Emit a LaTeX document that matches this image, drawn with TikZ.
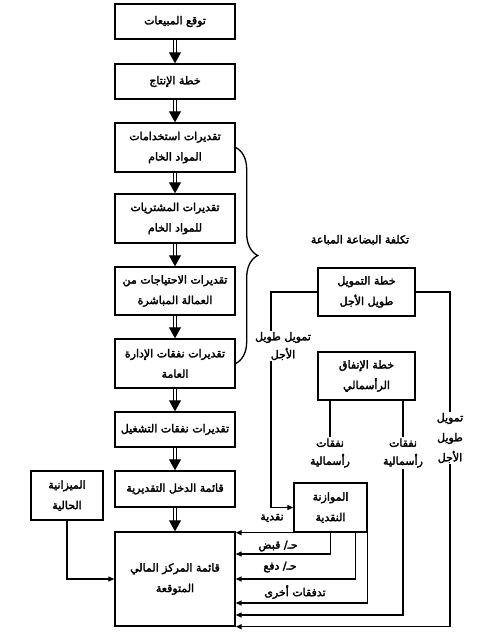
\documentclass[tikz,border=0pt]{standalone}
\usepackage{fontspec}
\newfontfamily\arabicfont[Script=Arabic,FakeBold=2.6]{DejaVu Sans}
\TeXXeTstate=1
\usepackage{tikz}
\usetikzlibrary{calc,positioning,decorations.pathreplacing,arrows.meta}
\newcommand{\artext}[1]{\beginR #1\endR}
\tikzset{
    box/.style={draw, line width=1.4pt, minimum width=120pt, align=center, inner sep=1pt,
        font=\arabicfont\fontsize{11}{20.5}\selectfont},
    lbl/.style={align=center, inner sep=1pt, font=\arabicfont\fontsize{11}{18}\selectfont},
    flow/.style={double, double distance=2pt, line width=1pt, -{Triangle[length=11pt,width=12pt]}},
    link/.style={line width=1.3pt},
    tip/.style={-{Triangle[length=6pt,width=5pt]}}
}

\begin{document}
\begin{tikzpicture}[x=1pt,y=-1pt]
    \useasboundingbox (0,0) rectangle (486,633);
    % Main column of budgets
    \node[box, minimum height=35pt] (sales) at (175,21.5) {\artext{توقع المبيعات}};
    \node[box, minimum height=35pt] (prod) at (175,81.5) {\artext{خطة الإنتاج}};
    \node[box, minimum height=49pt] (raw) at (175,147.5) {\artext{تقديرات استخدامات}\\\artext{المواد الخام}};
    \node[box, minimum height=49pt] (purch) at (175,218.5) {\artext{تقديرات المشتريات}\\\artext{للمواد الخام}};
    \node[box, minimum height=48pt] (labor) at (175,291) {\artext{تقديرات الاحتياجات من}\\\artext{العمالة المباشرة}};
    \node[box, minimum height=49pt] (overhead) at (175,363.5) {\artext{تقديرات نفقات الإدارة}\\\artext{العامة}};
    \node[box, minimum height=35pt] (opex) at (175,429.5) {\artext{تقديرات نفقات التشغيل}};
    \node[box, minimum height=36pt] (income) at (175,489) {\artext{قائمة الدخل التقديرية}};
    \node[box, minimum height=94pt] (position) at (175,579) {\artext{قائمة المركز المالي}\\\artext{المتوقعة}};
    \node[box, minimum width=72pt, minimum height=49pt] (budget) at (67,495.5) {\artext{الميزانية}\\\artext{الحالية}};
    % Right hand plans
    \node[box, minimum width=97pt, minimum height=48pt] (ltf) at (366.5,292) {\artext{خطة التمويل}\\\artext{طويل الأجل}};
    \node[box, minimum width=97pt, minimum height=48pt] (capex) at (366.5,376) {\artext{خطة الإنفاق}\\\artext{الرأسمالي}};
    \node[box, minimum width=73pt, minimum height=49pt] (cash) at (330.5,507.5) {\artext{الموازنة}\\\artext{النقدية}};
    % Labels
    \node[lbl] (cogs) at (360,240) {\artext{تكلفة البضاعة المباعة}};
    \node[lbl] (ltfL) at (283,346) {\artext{تمويل طويل}\\\artext{الأجل}};
    \node[lbl, font=\arabicfont\fontsize{11}{20}\selectfont] (ltfR) at (450,438) {\artext{تمويل}\\\artext{طويل}\\\artext{الأجل}};
    \node[lbl] (capL) at (330,453) {\artext{نفقات}\\\artext{رأسمالية}};
    \node[lbl] (capR) at (403,453) {\artext{نفقات}\\\artext{رأسمالية}};
    \node[lbl] (cashlbl) at (272,518) {\artext{نقدية}};
    \node[lbl] (recv) at (278,546) {\artext{حـ/ قبض}};
    \node[lbl] (pay) at (280,567) {\artext{حـ/ دفع}};
    \node[lbl] (other) at (295,592) {\artext{تدفقات أخرى}};
    % Arrows down the main column
    \foreach \a/\b in {sales/prod,prod/raw,raw/purch,purch/labor,labor/overhead,overhead/opex,opex/income,income/position} {
        \draw[flow] (\a) -- (\b);
    }
    % Brace over the cost of goods sold
    \draw[link, decorate, decoration={brace, amplitude=22pt}] (raw.east) -- (overhead.east);
    % Opening balance sheet
    \draw[link, tip] (budget) |- (position);
    % Long term finance
    \draw[link] (ltf.west) -| ([xshift=-12pt]ltfL.north);
    \draw[link, tip] ([xshift=-12pt]ltfL.south) |- (cash.west);
    \draw[link] (ltf.east) -| (ltfR.north);
    \draw[link, tip] (ltfR.south) |- (position.south east);
    % Capital spending
    \draw[link] (capex.south -| capL) -- (capL.north);
    \draw[link] (capex.south -| capR) -- (capR.north);
    \draw[link, tip] (capR.south) |- ([yshift=-36pt]position.east);
    % Cash budget flows
    \draw[link, tip] (cash.south east) -- (cash.south east -| position.east);
    \draw[link, tip] (cash.south) |- ([yshift=25pt]position.east);
    \draw[link, tip] ([xshift=-12pt]cash.south east) |- (position.east);
    \draw[link, tip] (cash.south east) |- ([yshift=-24pt]position.east);
\end{tikzpicture}
\end{document}
